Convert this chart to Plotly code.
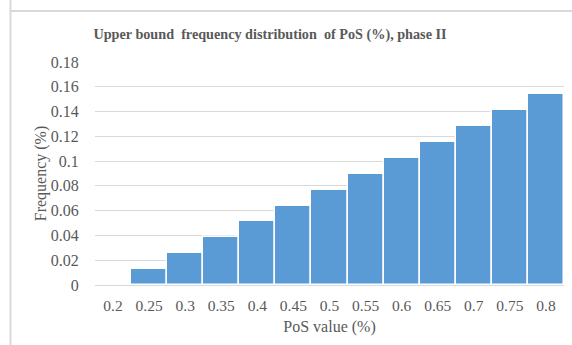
import plotly.graph_objects as go

categories = ["0.2", "0.25", "0.3", "0.35", "0.4", "0.45", "0.5",
              "0.55", "0.6", "0.65", "0.7", "0.75", "0.8"]
frequency = [0.0, 0.0129, 0.0257, 0.0385, 0.0513, 0.0641, 0.0769,
             0.0897, 0.1026, 0.1154, 0.1282, 0.1410, 0.1538]
y_tickvals = [0, 0.02, 0.04, 0.06, 0.08, 0.1, 0.12, 0.14, 0.16, 0.18]
y_ticktext = ["0", "0.02", "0.04", "0.06", "0.08", "0.1", "0.12", "0.14", "0.16", "0.18"]

W, H = 572, 345
ML, MR, MT, MB = 95, 8, 62, 60
pw = W - ML - MR
ph = H - MT - MB

def px_x(x):
    return (x - ML) / pw

def px_y(y):
    return (H - MB - y) / ph

TXT = "#595959"
FONT = "Liberation Serif"

fig = go.Figure()
fig.add_trace(go.Bar(
    x=categories, y=frequency,
    marker=dict(color="#5B9BD5", line=dict(color="white", width=1.5)),
))

fig.update_layout(
    width=W, height=H,
    margin=dict(l=ML, r=MR, t=MT, b=MB),
    paper_bgcolor="white", plot_bgcolor="white",
    bargap=0,
    showlegend=False,
    font=dict(family=FONT, color=TXT, size=16),
    title=dict(
        text="<b>Upper bound  frequency distribution  of PoS (%), phase II</b>",
        font=dict(family=FONT, size=14.2, color=TXT),
        x=px_x(270), xref="paper", xanchor="center",
        y=1 - 34 / H, yref="container", yanchor="middle",
    ),
    xaxis=dict(
        type="category",
        showgrid=False,
        showline=True, linecolor="#D9D9D9", linewidth=1,
        ticks="outside", ticklen=6, tickcolor="rgba(0,0,0,0)",
        tickfont=dict(family=FONT, size=15.5, color=TXT),
        title=dict(text="PoS value (%)", font=dict(family=FONT, size=16, color=TXT), standoff=8),
    ),
    yaxis=dict(
        range=[0, 0.18],
        tickvals=y_tickvals, ticktext=y_ticktext,
        showgrid=True, gridcolor="#D9D9D9", gridwidth=1,
        zeroline=False,
        showline=False,
        ticks="outside", ticklen=12, tickcolor="rgba(0,0,0,0)",
        tickfont=dict(family=FONT, size=16, color=TXT),
        title=dict(text="Frequency (%)", font=dict(family=FONT, size=16, color=TXT), standoff=0),
    ),
    shapes=[
        dict(type="line", xref="paper", yref="paper",
             x0=px_x(10.5), x1=px_x(10.5), y0=px_y(0), y1=px_y(H),
             line=dict(color="#D9D9D9", width=2)),
        dict(type="line", xref="paper", yref="paper",
             x0=px_x(10.5), x1=px_x(W), y0=px_y(11), y1=px_y(11),
             line=dict(color="#D9D9D9", width=2)),
    ],
)

fig.write_html("out.html")
